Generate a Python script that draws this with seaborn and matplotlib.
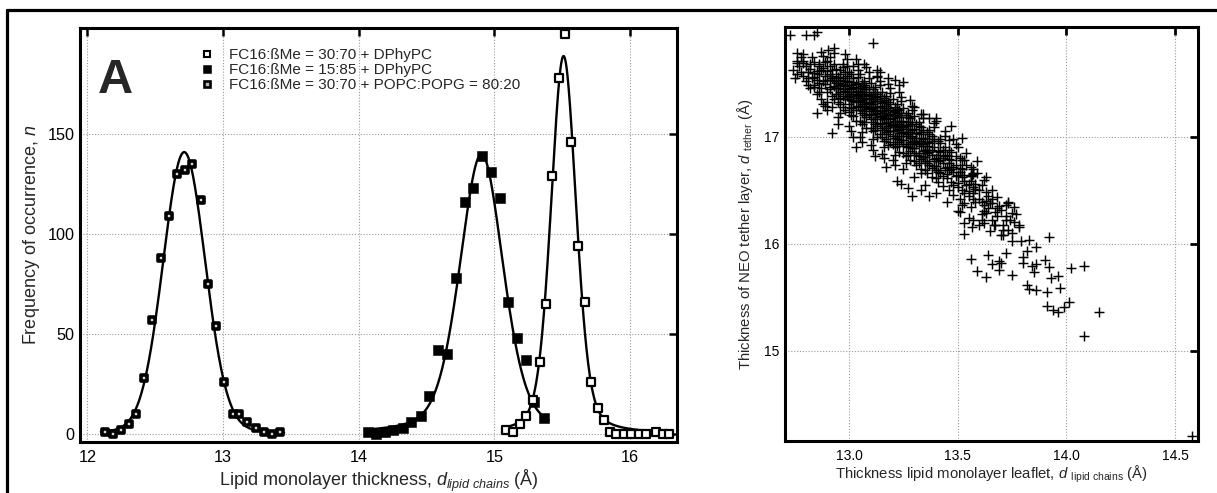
import numpy as np
import pandas as pd
import matplotlib
matplotlib.use("Agg")
import matplotlib.pyplot as plt
from matplotlib.lines import Line2D
import seaborn as sns

# ---------------- Panel A: histogram data ----------------
popc_x = [12.13, 12.19, 12.25, 12.31, 12.36, 12.42, 12.48, 12.54, 12.60, 12.66, 12.72, 12.77,
          12.835, 12.89, 12.95, 13.01, 13.07, 13.12, 13.18, 13.24, 13.30, 13.36, 13.42]
popc_n = [1, 0, 2, 5, 10, 28, 57, 88, 109, 130, 132, 135, 117, 75, 54, 26, 10, 10, 6, 3, 1, 0, 1]

dm15_x = [14.069, 14.131, 14.192, 14.253, 14.327, 14.389, 14.462, 14.518, 14.585, 14.654, 14.72,
          14.786, 14.842, 14.909, 14.975, 15.039, 15.10, 15.167, 15.23, 15.29, 15.366]
dm15_n = [1, 0, 1, 2, 3, 6, 9, 19, 42, 40, 78, 116, 123, 139, 131, 118, 66, 48, 37, 16, 8]

dm30_x = [15.083, 15.137, 15.19, 15.235, 15.285, 15.333, 15.378, 15.427, 15.476, 15.523, 15.567,
          15.62, 15.665, 15.709, 15.763, 15.81, 15.854, 15.898, 15.952, 16.009, 16.063, 16.12,
          16.188, 16.242, 16.29]
dm30_n = [2, 1, 5, 9, 17, 36, 65, 129, 178, 200, 146, 94, 66, 26, 13, 7, 1, 0, 0, 0, 0, 0, 1, 0, 0]

# fit parameters: amplitude, centre, half width, lorentz fraction, range
fit_popc = (141, 12.714, 0.185, 0.1, 12.10, 13.45)
fit_dm15 = (140, 14.905, 0.19, 0.35, 14.08, 15.40)
fit_dm30 = (189, 15.51, 0.11, 0.3, 15.08, 16.30)

legend_labels = ["FC16:ßMe = 30:70 + DPhyPC",
                 "FC16:ßMe = 15:85 + DPhyPC",
                 "FC16:ßMe = 30:70 + POPC:POPG = 80:20"]

# ---------------- Panel B: scatter data ----------------
tether_sparse = [
    (12.73, 17.95), (12.80, 17.95), (12.84, 17.95), (12.85, 17.98), (13.11, 17.87), (12.76, 17.78),
    (12.79, 17.77), (12.76, 17.69), (12.79, 17.71), (12.81, 17.55), (12.84, 17.46), (12.85, 17.22),
    (12.92, 17.03), (13.03, 16.90), (13.02, 17.00), (13.52, 16.99), (13.57, 16.65), (13.22, 16.59),
    (13.29, 16.45), (13.73, 16.39), (13.75, 16.29), (13.78, 16.18), (13.53, 16.09), (13.71, 16.08),
    (13.75, 16.03), (13.79, 16.03), (13.83, 16.04), (13.92, 16.06), (13.86, 15.97), (13.56, 15.86),
    (13.64, 15.90), (13.69, 15.84), (13.70, 15.82), (13.66, 15.81), (13.72, 15.91), (13.80, 15.88),
    (13.82, 15.93), (13.80, 15.82), (13.84, 15.79), (13.86, 15.81), (13.90, 15.85), (13.92, 15.78),
    (13.59, 15.75), (13.69, 15.76), (13.85, 15.74), (13.75, 15.71), (13.63, 15.69), (13.93, 15.68),
    (13.96, 15.70), (14.02, 15.77), (14.08, 15.79), (13.82, 15.62), (13.83, 15.58), (13.86, 15.57),
    (13.91, 15.55), (13.97, 15.59), (13.91, 15.42), (13.94, 15.38), (13.96, 15.36), (13.99, 15.41),
    (14.01, 15.46), (14.08, 15.14), (14.15, 15.36), (14.58, 14.21),
    (13.565, 16.64), (13.57, 16.47), (13.61, 16.39), (13.66, 16.38), (13.68, 16.33), (13.63, 16.29),
    (13.57, 16.22), (13.565, 16.16), (13.62, 16.19), (13.665, 16.18), (13.72, 16.22), (13.73, 16.13),
    (13.52, 16.36), (13.51, 16.30), (13.53, 16.19),
    (12.905, 17.81), (12.93, 17.83), (13.21, 17.53), (13.25, 17.51), (13.23, 17.48), (13.14, 17.60),
    (13.13, 17.56), (13.07, 17.68), (13.04, 17.68), (13.30, 17.28), (13.33, 17.21), (13.37, 17.17),
    (13.40, 17.15), (13.46, 16.97), (13.53, 16.78), (13.57, 16.66), (13.56, 16.63), (12.89, 17.29),
    (12.95, 17.12), (13.12, 16.82), (13.17, 16.72), (13.24, 16.56), (13.27, 16.52), (13.33, 16.50),
    (13.37, 16.45),
]

tether_dense = [
    (12.74, 17.62), (12.76, 17.71), (12.75, 17.55), (12.77, 17.66), (12.78, 17.74), (12.76, 17.58),
    (12.79, 17.69), (12.78, 17.60),
    (12.80, 17.52), (12.81, 17.60), (12.82, 17.68), (12.79, 17.57), (12.83, 17.74), (12.81, 17.48),
    (12.82, 17.63), (12.80, 17.66), (12.83, 17.55), (12.84, 17.70), (12.82, 17.45), (12.84, 17.59),
    (12.85, 17.40), (12.86, 17.50), (12.84, 17.56), (12.87, 17.62), (12.86, 17.68), (12.88, 17.75),
    (12.85, 17.53), (12.87, 17.45), (12.86, 17.58), (12.88, 17.64), (12.84, 17.48), (12.89, 17.70),
    (12.87, 17.35), (12.85, 17.61), (12.88, 17.52), (12.86, 17.42), (12.89, 17.57), (12.87, 17.79),
    (12.88, 17.30), (12.86, 17.66),
    (12.90, 17.32), (12.91, 17.44), (12.89, 17.49), (12.92, 17.55), (12.90, 17.61), (12.93, 17.68),
    (12.91, 17.74), (12.92, 17.38), (12.90, 17.53), (12.93, 17.47), (12.91, 17.58), (12.94, 17.63),
    (12.92, 17.28), (12.90, 17.42), (12.93, 17.52), (12.91, 17.66), (12.94, 17.40), (12.92, 17.57),
    (12.90, 17.71), (12.93, 17.35), (12.94, 17.50), (12.91, 17.46), (12.92, 17.62), (12.94, 17.56),
    (12.90, 17.25), (12.93, 17.78), (12.91, 17.53), (12.94, 17.45),
    (12.95, 17.18), (12.96, 17.30), (12.97, 17.38), (12.95, 17.45), (12.98, 17.52), (12.96, 17.58),
    (12.97, 17.65), (12.99, 17.72), (12.95, 17.40), (12.96, 17.48), (12.98, 17.35), (12.97, 17.55),
    (12.99, 17.42), (12.96, 17.62), (12.98, 17.25), (12.95, 17.50), (12.97, 17.44), (12.99, 17.57),
    (12.96, 17.36), (12.98, 17.47), (12.97, 17.68), (12.95, 17.32), (12.99, 17.51), (12.96, 17.42),
    (12.98, 17.60), (12.97, 17.28), (12.99, 17.38), (12.95, 17.56), (12.98, 17.43), (12.96, 17.53),
    (12.97, 17.49), (12.99, 17.66), (12.96, 17.22), (12.98, 17.77),
    (13.00, 17.10), (13.01, 17.20), (13.02, 17.28), (13.00, 17.35), (13.03, 17.42), (13.01, 17.48),
    (13.02, 17.55), (13.04, 17.62), (13.00, 17.30), (13.03, 17.38), (13.01, 17.44), (13.04, 17.50),
    (13.02, 17.33), (13.00, 17.40), (13.03, 17.25), (13.01, 17.58), (13.04, 17.36), (13.02, 17.46),
    (13.00, 17.52), (13.03, 17.15), (13.01, 17.38), (13.04, 17.43), (13.02, 17.40), (13.00, 17.23),
    (13.03, 17.32), (13.01, 17.27), (13.04, 17.56), (13.02, 17.66), (13.00, 17.45), (13.03, 17.49),
    (13.01, 17.34), (13.04, 17.29), (13.02, 17.19), (13.00, 17.60), (13.03, 17.72), (13.01, 17.05),
    (13.04, 17.39), (13.02, 17.51), (13.00, 17.37), (13.03, 17.45),
    (13.05, 17.00), (13.06, 17.12), (13.07, 17.20), (13.05, 17.28), (13.08, 17.35), (13.06, 17.42),
    (13.07, 17.48), (13.09, 17.55), (13.05, 17.25), (13.08, 17.30), (13.06, 17.38), (13.09, 17.44),
    (13.07, 17.32), (13.05, 17.36), (13.08, 17.18), (13.06, 17.50), (13.09, 17.27), (13.07, 17.40),
    (13.05, 17.45), (13.08, 17.08), (13.06, 17.30), (13.09, 17.36), (13.07, 17.24), (13.05, 17.15),
    (13.08, 17.42), (13.06, 17.22), (13.09, 17.60), (13.07, 17.52), (13.05, 17.33), (13.08, 17.46),
    (13.06, 17.34), (13.09, 17.21), (13.07, 17.14), (13.05, 17.58), (13.08, 17.65), (13.06, 17.04),
    (13.09, 17.31), (13.07, 17.44), (13.05, 17.40), (13.08, 17.26), (13.06, 17.47), (13.09, 17.39),
    (13.07, 17.29), (13.06, 16.95),
    (13.10, 16.92), (13.11, 17.05), (13.12, 17.12), (13.10, 17.20), (13.13, 17.28), (13.11, 17.35),
    (13.12, 17.42), (13.14, 17.48), (13.10, 17.16), (13.13, 17.22), (13.11, 17.30), (13.14, 17.38),
    (13.12, 17.25), (13.10, 17.28), (13.13, 17.10), (13.11, 17.44), (13.14, 17.19), (13.12, 17.33),
    (13.10, 17.38), (13.13, 17.00), (13.11, 17.24), (13.14, 17.29), (13.12, 17.16), (13.10, 17.08),
    (13.13, 17.35), (13.11, 17.14), (13.14, 17.52), (13.12, 17.46), (13.10, 17.26), (13.13, 17.40),
    (13.11, 17.27), (13.14, 17.13), (13.12, 17.06), (13.10, 17.50), (13.13, 17.57), (13.11, 16.98),
    (13.14, 17.24), (13.12, 17.37), (13.10, 17.32), (13.13, 17.18), (13.11, 17.40), (13.14, 17.33),
    (13.12, 17.21), (13.11, 16.88), (13.13, 17.62), (13.14, 17.02),
    (13.15, 16.84), (13.16, 16.96), (13.17, 17.04), (13.15, 17.12), (13.18, 17.20), (13.16, 17.27),
    (13.17, 17.34), (13.19, 17.41), (13.15, 17.08), (13.18, 17.14), (13.16, 17.22), (13.19, 17.30),
    (13.17, 17.17), (13.15, 17.19), (13.18, 17.02), (13.16, 17.36), (13.19, 17.10), (13.17, 17.25),
    (13.15, 17.31), (13.18, 16.92), (13.16, 17.16), (13.19, 17.21), (13.17, 17.08), (13.15, 17.00),
    (13.18, 17.27), (13.16, 17.06), (13.19, 17.45), (13.17, 17.38), (13.15, 17.18), (13.18, 17.32),
    (13.16, 17.19), (13.19, 17.05), (13.17, 16.98), (13.15, 17.42), (13.18, 17.49), (13.16, 16.90),
    (13.19, 17.16), (13.17, 17.29), (13.15, 17.24), (13.18, 17.10), (13.16, 17.32), (13.19, 17.25),
    (13.17, 17.13), (13.16, 16.80), (13.18, 17.55), (13.19, 16.95),
    (13.20, 16.78), (13.21, 16.90), (13.22, 16.98), (13.20, 17.05), (13.23, 17.12), (13.21, 17.19),
    (13.22, 17.26), (13.24, 17.33), (13.20, 17.01), (13.23, 17.07), (13.21, 17.15), (13.24, 17.22),
    (13.22, 17.10), (13.20, 17.12), (13.23, 16.95), (13.21, 17.28), (13.24, 17.03), (13.22, 17.18),
    (13.20, 17.23), (13.23, 16.86), (13.21, 17.09), (13.24, 17.14), (13.22, 17.01), (13.20, 16.93),
    (13.23, 17.20), (13.21, 16.99), (13.24, 17.37), (13.22, 17.30), (13.20, 17.11), (13.23, 17.25),
    (13.21, 17.12), (13.24, 16.97), (13.22, 16.91), (13.20, 17.35), (13.23, 17.42), (13.21, 16.83),
    (13.24, 17.09), (13.22, 17.22), (13.20, 17.17), (13.23, 17.03), (13.21, 17.24), (13.24, 17.18),
    (13.22, 17.06), (13.21, 16.74),
    (13.25, 16.70), (13.26, 16.82), (13.27, 16.90), (13.25, 16.97), (13.28, 17.04), (13.26, 17.11),
    (13.27, 17.18), (13.29, 17.25), (13.25, 16.93), (13.28, 16.99), (13.26, 17.07), (13.29, 17.14),
    (13.27, 17.02), (13.25, 17.04), (13.28, 16.87), (13.26, 17.20), (13.29, 16.95), (13.27, 17.10),
    (13.25, 17.15), (13.28, 16.78), (13.26, 17.01), (13.29, 17.06), (13.27, 16.93), (13.25, 16.85),
    (13.28, 17.12), (13.26, 16.91), (13.29, 17.29), (13.27, 17.22), (13.25, 17.03), (13.28, 17.17),
    (13.26, 17.04), (13.29, 16.89), (13.27, 16.83), (13.25, 17.27), (13.28, 17.34), (13.26, 16.75),
    (13.29, 17.01), (13.27, 17.14), (13.25, 17.09), (13.28, 16.95),
    (13.30, 16.62), (13.31, 16.74), (13.32, 16.82), (13.30, 16.89), (13.33, 16.96), (13.31, 17.03),
    (13.32, 17.10), (13.34, 17.17), (13.30, 16.85), (13.33, 16.91), (13.31, 16.99), (13.34, 17.06),
    (13.32, 16.94), (13.30, 16.96), (13.33, 16.79), (13.31, 17.12), (13.34, 16.87), (13.32, 17.02),
    (13.30, 17.07), (13.33, 16.70), (13.31, 16.93), (13.34, 16.98), (13.32, 16.85), (13.30, 16.77),
    (13.33, 17.04), (13.31, 16.83), (13.34, 17.21), (13.32, 17.14), (13.30, 16.95), (13.33, 17.09),
    (13.31, 16.96), (13.34, 16.81), (13.32, 16.75), (13.30, 17.19), (13.33, 16.66), (13.34, 16.93),
    (13.35, 16.55), (13.36, 16.66), (13.37, 16.74), (13.35, 16.81), (13.38, 16.88), (13.36, 16.95),
    (13.37, 17.02), (13.39, 17.09), (13.35, 16.77), (13.38, 16.83), (13.36, 16.91), (13.39, 16.98),
    (13.37, 16.86), (13.35, 16.88), (13.38, 16.71), (13.36, 17.04), (13.39, 16.79), (13.37, 16.94),
    (13.35, 16.99), (13.38, 16.62), (13.36, 16.85), (13.39, 16.90), (13.37, 16.77), (13.35, 16.69),
    (13.38, 16.96), (13.36, 16.75), (13.39, 17.13), (13.37, 17.06), (13.35, 16.87), (13.38, 17.01),
    (13.36, 16.88), (13.39, 16.73),
    (13.40, 16.47), (13.41, 16.58), (13.42, 16.66), (13.40, 16.73), (13.43, 16.80), (13.41, 16.87),
    (13.42, 16.94), (13.44, 17.01), (13.40, 16.69), (13.43, 16.75), (13.41, 16.83), (13.44, 16.90),
    (13.42, 16.78), (13.40, 16.80), (13.43, 16.63), (13.41, 16.96), (13.44, 16.71), (13.42, 16.86),
    (13.40, 17.17), (13.43, 16.54), (13.41, 16.77), (13.44, 16.82), (13.42, 16.69), (13.40, 16.61),
    (13.43, 16.88), (13.41, 16.67), (13.44, 17.05), (13.42, 16.98),
    (13.45, 16.39), (13.46, 16.50), (13.47, 16.58), (13.45, 16.65), (13.48, 16.72), (13.46, 16.79),
    (13.47, 16.86), (13.49, 16.93), (13.45, 16.61), (13.48, 16.67), (13.46, 16.75), (13.49, 16.82),
    (13.47, 16.70), (13.45, 16.72), (13.48, 16.55), (13.46, 16.88), (13.49, 16.63), (13.47, 16.78),
    (13.45, 16.83), (13.48, 16.46), (13.46, 16.69), (13.49, 16.74), (13.47, 17.10), (13.48, 16.98),
    (13.50, 16.31), (13.51, 16.42), (13.52, 16.50), (13.50, 16.57), (13.53, 16.64), (13.51, 16.71),
    (13.52, 16.78), (13.54, 16.85), (13.50, 16.53), (13.53, 16.59), (13.51, 16.67), (13.54, 16.74),
    (13.52, 16.62), (13.50, 16.64), (13.53, 16.47), (13.51, 16.80), (13.54, 16.55), (13.52, 16.70),
    (13.50, 16.90), (13.53, 16.38),
    (13.55, 16.24), (13.56, 16.34), (13.57, 16.42), (13.55, 16.49), (13.58, 16.56), (13.56, 16.63),
    (13.57, 16.70), (13.59, 16.77), (13.55, 16.45), (13.58, 16.51), (13.56, 16.59), (13.59, 16.66),
    (13.57, 16.53), (13.55, 16.56), (13.58, 16.39), (13.56, 16.72),
    (13.60, 16.18), (13.61, 16.28), (13.62, 16.36), (13.60, 16.42), (13.63, 16.48), (13.61, 16.55),
    (13.62, 16.60), (13.64, 16.33), (13.60, 16.50), (13.63, 16.40), (13.61, 16.22), (13.64, 16.45),
    (13.62, 16.31), (13.63, 16.62),
    (13.65, 16.12), (13.66, 16.22), (13.67, 16.30), (13.65, 16.38), (13.68, 16.44), (13.66, 16.50),
    (13.67, 16.18), (13.69, 16.35), (13.68, 16.26), (13.66, 16.42),
    (13.70, 16.08), (13.71, 16.18), (13.72, 16.26), (13.70, 16.32), (13.73, 16.38), (13.71, 16.13),
    (13.74, 16.22), (13.72, 16.36),
    (13.75, 16.10), (13.76, 16.20), (13.77, 16.28), (13.78, 16.16), (13.76, 16.34),
]

# ---------------- style ----------------
sns.set_theme(style="white")
plt.rcParams["font.family"] = ["Liberation Sans", "DejaVu Sans"]
plt.rcParams["mathtext.fontset"] = "custom"
plt.rcParams["mathtext.rm"] = "Liberation Sans"
plt.rcParams["mathtext.it"] = "Liberation Sans:italic"
plt.rcParams["mathtext.bf"] = "Liberation Sans:bold"

W, H = 1217, 493
fig = plt.figure(figsize=(W / 100, H / 100), dpi=100)
fig.patch.set_facecolor("white")

axA = fig.add_axes([80 / W, 1 - 441.7 / H, 597 / W, 413.7 / H])
axB = fig.add_axes([785 / W, 1 - 440.7 / H, 413 / W, 413.7 / H])

grid_kw = dict(color="#9a9a9a", linestyle=(0, (1, 1.6)), linewidth=0.8)
for ax in (axA, axB):
    ax.set_facecolor("white")
    for sp in ax.spines.values():
        sp.set_linewidth(2.2)
        sp.set_color("black")
    ax.grid(True, **grid_kw)
    ax.set_axisbelow(True)


def pvoigt(x, amp, mu, w, eta):
    g = np.exp(-np.log(2) * ((x - mu) / w) ** 2)
    l = 1.0 / (1.0 + ((x - mu) / w) ** 2)
    return amp * ((1 - eta) * g + eta * l)


# ---- Panel A ----
for par in (fit_popc, fit_dm15, fit_dm30):
    amp, mu, w, eta, x0, x1 = par
    xs = np.linspace(x0, x1, 400)
    sns.lineplot(x=xs, y=pvoigt(xs, amp, mu, w, eta), ax=axA, color="black",
                 linewidth=1.7, zorder=2)

sns.scatterplot(x=popc_x, y=popc_n, ax=axA, marker="s", s=4.3 ** 2, color="#d8d8d8",
                edgecolor="black", linewidth=2.6, zorder=3, clip_on=False)
sns.scatterplot(x=dm15_x, y=dm15_n, ax=axA, marker="s", s=7.6 ** 2, color="black",
                edgecolor="black", linewidth=0.4, zorder=3, clip_on=False)
sns.scatterplot(x=dm30_x, y=dm30_n, ax=axA, marker="s", s=6.0 ** 2, color="white",
                edgecolor="black", linewidth=1.6, zorder=4, clip_on=False)

axA.set_xlim(11.946, 16.346)
axA.set_ylim(-3.7, 203)
axA.set_xticks([12, 13, 14, 15, 16])
axA.set_yticks([0, 50, 100, 150])
axA.tick_params(direction="in", top=True, right=True, length=6, width=1.8,
                labelsize=11.7, colors="black", pad=4)
axA.tick_params(axis="x", pad=6)
axA.set_xlabel(r"Lipid monolayer thickness, $d_{lipid\ chains}$ (Å)", fontsize=13)
axA.set_ylabel(r"Frequency of occurrence, $n$", fontsize=13)
axA.xaxis.set_label_coords(0.5, -0.063)
axA.yaxis.set_label_coords(-0.064, 0.5)

axA.text(0.0594, 0.843, "A", transform=axA.transAxes, fontsize=35, fontweight="bold",
         ha="center", va="baseline")

handles = [
    Line2D([], [], linestyle="none", marker="s", markersize=5.0, markerfacecolor="white",
           markeredgecolor="black", markeredgewidth=1.5),
    Line2D([], [], linestyle="none", marker="s", markersize=6.2, markerfacecolor="black",
           markeredgecolor="black", markeredgewidth=0.4),
    Line2D([], [], linestyle="none", marker="s", markersize=4.0, markerfacecolor="#bbbbbb",
           markeredgecolor="black", markeredgewidth=1.9),
]
leg = axA.legend(handles, legend_labels, loc="upper left", bbox_to_anchor=(0.2027, 0.952),
                 frameon=False, fontsize=11, handlelength=0.8, handletextpad=1.0,
                 labelspacing=0.08, borderpad=0, borderaxespad=0)

# ---- Panel B ----
pts = pd.DataFrame(tether_dense + tether_sparse, columns=["lipid", "tether"])
sns.scatterplot(data=pts, x="lipid", y="tether", ax=axB, marker="+", s=50, color="black",
                linewidth=1.05, zorder=3)

axB.set_xlim(12.705, 14.606)
axB.set_ylim(14.163, 18.023)
axB.set_xticks([13.0, 13.5, 14.0, 14.5])
axB.set_xticklabels(["13.0", "13.5", "14.0", "14.5"])
axB.set_yticks([15, 16, 17])
axB.tick_params(direction="in", top=True, right=True, length=6, width=2.0,
                labelsize=10, colors="black", pad=4)
axB.tick_params(axis="x", pad=6)
axB.set_xlabel(r"Thickness lipid monolayer leaflet, $d$ $_{\mathrm{lipid\ chains}}$ (Å)",
               fontsize=10.7)
axB.set_ylabel(r"Thickness of NEO tether layer, $d$ $_{\mathrm{tether}}$ (Å)", fontsize=10.7)
axB.xaxis.set_label_coords(0.5, -0.055)
axB.yaxis.set_label_coords(-0.073, 0.5)

# ---- figure frame (top and left border) ----
fig.add_artist(Line2D([7 / W, 1.0], [1 - 10 / H, 1 - 10 / H], transform=fig.transFigure,
                      color="black", linewidth=2.3))
fig.add_artist(Line2D([7 / W, 7 / W], [1 - 10 / H, 0.0], transform=fig.transFigure,
                      color="black", linewidth=2.3))

fig.savefig("out.png", dpi=100, facecolor="white")
